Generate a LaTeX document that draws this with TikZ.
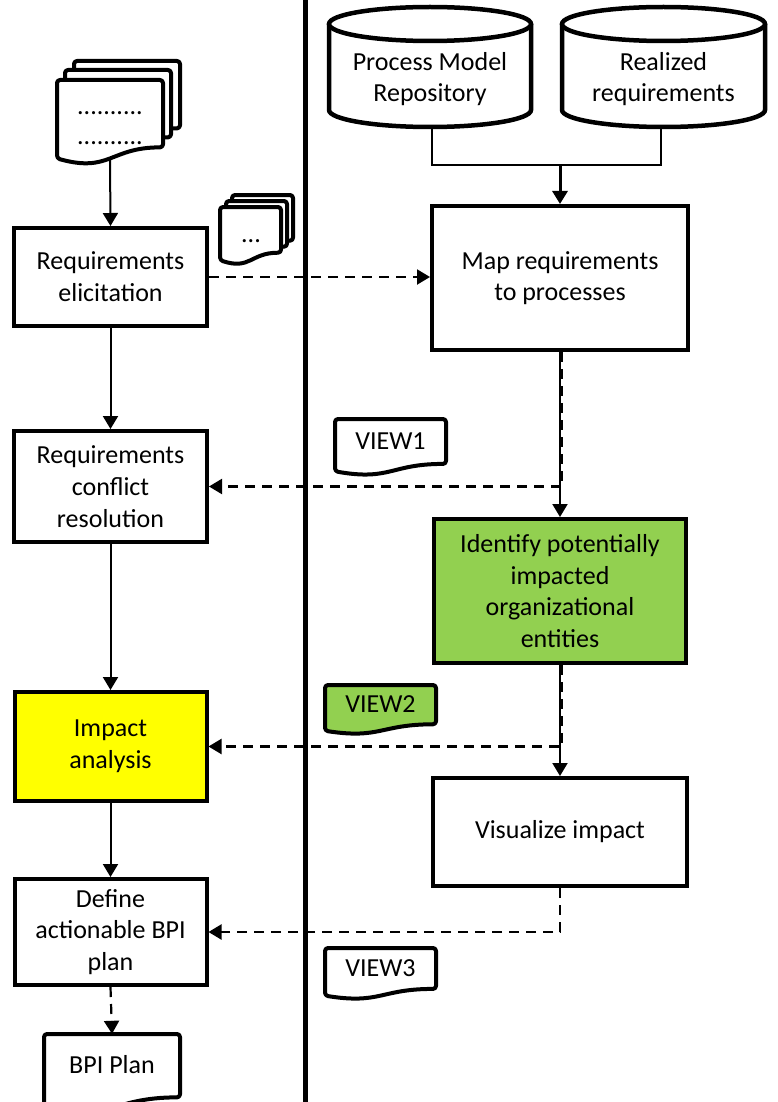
\documentclass[tikz,border=0pt]{standalone}
\usepackage{fontspec}
\setmainfont{Carlito}
\usetikzlibrary{arrows.meta,calc}

\definecolor{leaf}{HTML}{92D050}
\definecolor{hilite}{HTML}{FFFF00}
\newcommand\boxfont{\fontsize{26}{31.7}\selectfont}

\tikzset{
  stepbox/.style={draw, line width=4pt, fill=white, align=center, inner sep=2pt, font=\boxfont},
  docline/.style={draw, line width=4pt, fill=white, line join=round, rounded corners=3pt},
  doctext/.style={inner sep=0pt, align=center, font=\boxfont},
  drum/.style={draw, line width=4.5pt, fill=white},
  flow/.style={line width=2pt, -{Triangle[length=13pt,width=15pt]}},
  dflow/.style={line width=2.2pt, dash pattern=on 10pt off 7pt, -{Triangle[length=13pt,width=15pt]}},
  feed/.style={line width=2pt},
}

% document sheet with a wavy lower edge: name, left, top, width, height, style, text
\newcommand\docsheet[7]{%
  \path[docline,#6] (#2,#3) -- ({#2+#4},#3) -- ({#2+#4},{#3+0.802*#5})
    .. controls ({#2+0.5*#4},{#3+0.802*#5}) and ({#2+0.5*#4},{#3+1.107*#5}) .. (#2,{#3+0.934*#5}) -- cycle;
  \node[doctext, minimum width=#4, minimum height={0.78*#5}] (#1) at ({#2+0.5*#4},{#3+0.39*#5}) {#7};
  \coordinate (#1-b) at ({#2+0.5*#4},{#3+0.933*#5});
}

% cylinder outline: center x, left, right, top ellipse y, bottom y
\newcommand\drumshape[5]{%
  \path[drum] (#2,#4) -- (#2,#5)
    .. controls (#2,{#5+0.552*17}) and ({#1-0.552*(#3-#2)/2},{#5+17}) .. (#1,{#5+17})
    .. controls ({#1+0.552*(#3-#2)/2},{#5+17}) and (#3,{#5+0.552*17}) .. (#3,#5) -- (#3,#4);
  \draw[drum] (#1,#4) ellipse [x radius={(#3-#2)/2}, y radius=17];
}

\begin{document}
\begin{tikzpicture}[x=1pt,y=-1pt]
\useasboundingbox (0,0) rectangle (778,1102);

% lane divider
\draw[line width=5pt] (305,0) -- (305,1102);

% repositories
\drumshape{430}{329}{531}{24}{110}
\drumshape{663.5}{562}{765}{24}{110}
\node[doctext] (pmr) at (430,79) {Process Model\\Repository};
\node[doctext] (rr) at (663.5,79) {Realized\\requirements};
\coordinate (pmr-b) at (432,127);
\coordinate (rr-b) at (661,127);
\coordinate (join) at (560,165);

% input documents
\docsheet{docAback}{74}{61}{106}{84}{}{}
\docsheet{docAmid}{65}{70}{106}{84}{}{}
\docsheet{docA}{57}{80}{106}{84}{}{}
\node[inner sep=0pt, align=center, font=\fontsize{26}{30}\selectfont] (dots) at (110,128) {..........\\..........};

\docsheet{docBback}{232}{195}{61}{57}{}{}
\docsheet{docBmid}{226}{201}{61}{57}{}{}
\docsheet{docB}{220}{207}{61}{57}{}{}
\node[inner sep=0pt, font=\boxfont] (ell) at (251,241.5) {...};

% left lane
\node[stepbox, minimum width=193pt, minimum height=98pt] (elic) at (110.5,277) {Requirements\\elicitation};
\node[stepbox, minimum width=193pt, minimum height=111pt] (conf) at (110.5,486.5) {Requirements\\conflict\\resolution};
\node[stepbox, fill=hilite, minimum width=192pt, minimum height=109pt] (impact) at (110.5,746.5) {Impact\\analysis};
\node[stepbox, minimum width=192pt, minimum height=106pt] (define) at (110.5,932) {Define\\actionable BPI\\plan};
\docsheet{bpi}{44}{1034}{136}{79}{}{BPI Plan}

% right lane
\node[stepbox, minimum width=256pt, minimum height=144pt] (map) at (560,278) {Map requirements\\to processes};
\node[stepbox, fill=leaf, minimum width=252pt, minimum height=144pt] (ident) at (560,591) {Identify potentially\\impacted\\organizational\\entities};
\node[stepbox, minimum width=254pt, minimum height=108pt] (vis) at (560,832) {Visualize impact};

% views
\docsheet{viewA}{335}{419}{111}{56}{}{VIEW1}
\docsheet{viewB}{325}{685}{111}{49}{fill=leaf}{VIEW2}
\docsheet{viewC}{325}{948}{111}{51}{}{VIEW3}

% connectors
\draw[feed] (pmr-b) |- (join) -| (rr-b);
\draw[flow, line width=3pt] (join) -- (map.north);
\draw[flow] (docA-b) -- (elic.north);
\draw[flow] (elic.south) -- (conf.north);
\draw[flow] (conf.south) -- (impact.north);
\draw[flow] (impact.south) -- (define.north);
\draw[dflow] (define.south) -- (bpi.north);
\draw[dflow] (elic.east) -- (elic.east -| map.west);
\draw[flow] (map.south) -- (ident.north);
\draw[dflow] ([xshift=2pt]map.south) |- (conf.east);
\draw[flow] (ident.south) -- (vis.north);
\draw[dflow] ([xshift=2pt]ident.south) |- (impact.east);
\draw[dflow] (vis.south) |- (define.east);
\end{tikzpicture}
\end{document}
